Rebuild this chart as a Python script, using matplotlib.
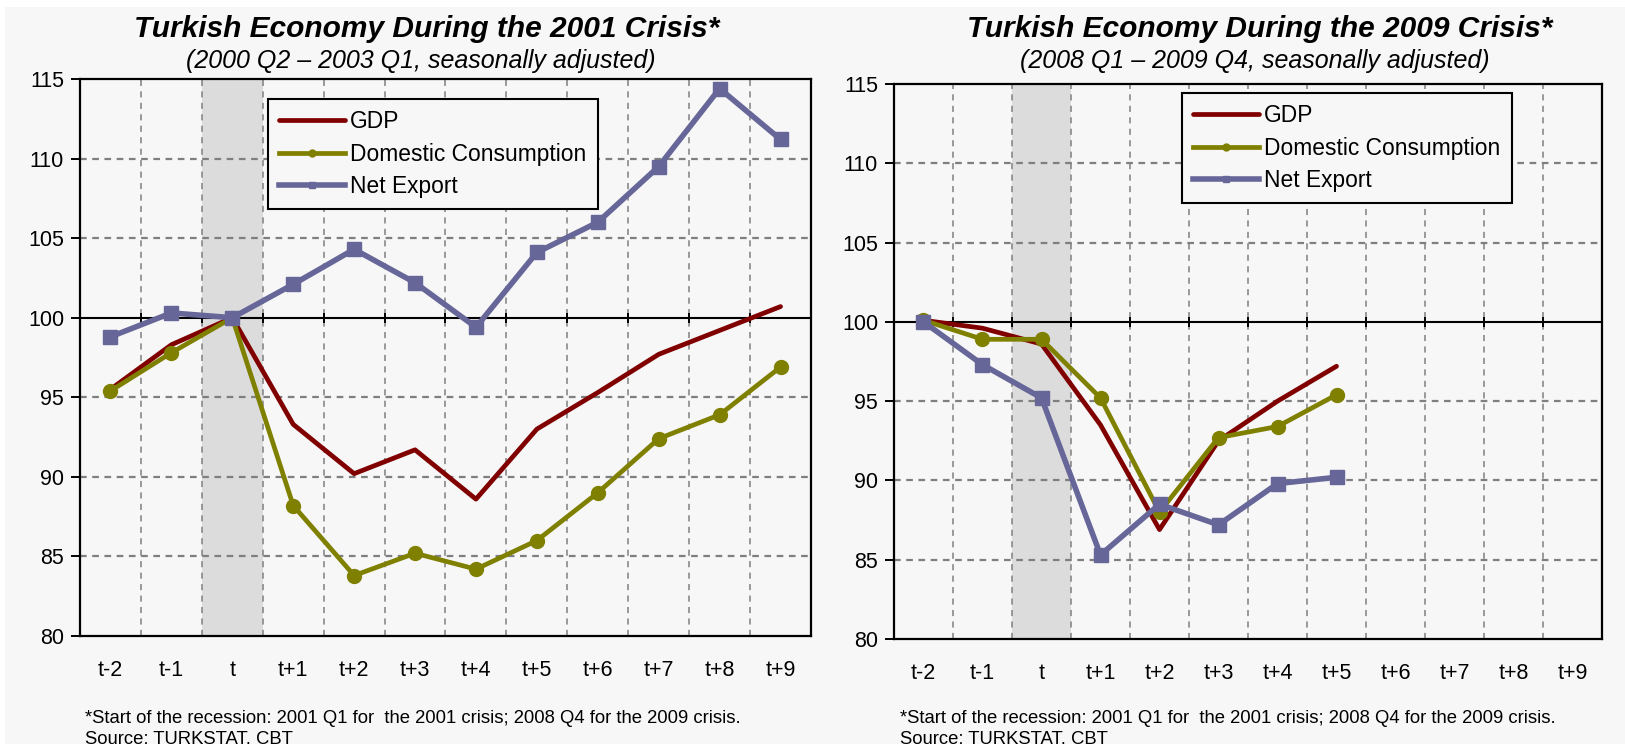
import matplotlib
matplotlib.use("Agg")
import matplotlib.pyplot as plt
import numpy as np
from matplotlib.patches import Rectangle

plt.rcParams['font.family'] = ['Liberation Sans', 'DejaVu Sans']

# ---------------- data ----------------
periods = ["t-2", "t-1", "t", "t+1", "t+2", "t+3", "t+4", "t+5", "t+6", "t+7", "t+8", "t+9"]
recession_period = "t"

gdp_2001 = [95.5, 98.3, 100.0, 93.3, 90.2, 91.7, 88.6, 93.0, 95.3, 97.7, 99.2, 100.7]
dom_2001 = [95.4, 97.8, 100.0, 88.2, 83.8, 85.2, 84.2, 86.0, 89.0, 92.4, 93.9, 96.9]
nx_2001 = [98.8, 100.3, 100.0, 102.1, 104.3, 102.2, 99.4, 104.1, 106.0, 109.5, 114.4, 111.2]

gdp_2009 = [100.1, 99.6, 98.6, 93.5, 86.9, 92.5, 95.0, 97.2]
dom_2009 = [100.1, 98.9, 98.9, 95.2, 88.0, 92.7, 93.4, 95.4]
nx_2009 = [100.0, 97.3, 95.2, 85.3, 88.5, 87.2, 89.8, 90.2]

series_names = ["GDP", "Domestic Consumption", "Net Export"]
yticks = [80, 85, 90, 95, 100, 105, 110, 115]
base_value = 100

title_2001 = "Turkish Economy During the 2001 Crisis*"
sub_2001 = "(2000 Q2 \u2013 2003 Q1, seasonally adjusted)"
title_2009 = "Turkish Economy During the 2009 Crisis*"
sub_2009 = "(2008 Q1 \u2013 2009 Q4, seasonally adjusted)"
footnote = ("*Start of the recession: 2001 Q1 for  the 2001 crisis; 2008 Q4 for the 2009 crisis.\n"
            "Source: TURKSTAT, CBT")

# ---------------- style ----------------
W, H = 1625, 744
BG = '#f7f7f7'
C_GDP = '#800000'
C_DOM = '#808000'
C_NX = '#666699'
GRID = '#7f7f7f'

fig = plt.figure(figsize=(W / 100, H / 100), dpi=100, facecolor='white')
bgrect = Rectangle((5 / W, 0), 1 - 5 / W, 1 - 7 / H, transform=fig.transFigure,
                   facecolor=BG, edgecolor='none', zorder=-100)
fig.add_artist(bgrect)


def fx(px):
    return px / W


def fy(py):
    return 1 - py / H


def draw(rect, gdp, dom, nx, title, sub, tcx, scx, leg_xy):
    ax = fig.add_axes(rect)
    ax.set_zorder(1)
    ax.set_facecolor(BG)
    x_all = np.arange(len(periods))
    bounds = x_all[:-1] + 0.5
    ax.set_xlim(-0.5, len(periods) - 0.5)
    ax.set_ylim(yticks[0], yticks[-1])

    i = periods.index(recession_period)
    ax.axvspan(i - 0.5, i + 0.5, color='#dcdcdc', zorder=0.5, lw=0)

    ax.set_yticks(yticks)
    ax.set_xticks(x_all)
    ax.set_xticklabels(periods)
    ax.set_xticks(bounds, minor=True)
    ax.tick_params(axis='x', which='both', length=0, pad=17.5, labelsize=15.5)
    ax.tick_params(axis='y', which='major', length=6.5, width=1.4, pad=5, direction='out',
                   labelsize=15.5)
    ax.grid(which='minor', axis='x', color=GRID, linestyle=(0, (4, 3.5)), lw=1.1, zorder=1)
    for v in yticks[1:-1]:
        if v != base_value:
            ax.axhline(v, color=GRID, linestyle=(0, (3, 2.5)), lw=1.6, zorder=1)
    for s in ax.spines.values():
        s.set_color('black')
        s.set_linewidth(1.6)

    # horizontal axis crossing at the base value, with tick marks at category boundaries
    ax.axhline(base_value, color='black', lw=1.5, zorder=2)
    loc = (base_value - yticks[0]) / (yticks[-1] - yticks[0])
    half = 5.0 / (rect[3] * H)
    ax.vlines(bounds, loc - half, loc + half, transform=ax.get_xaxis_transform(),
              color='black', lw=1.4, zorder=2)

    n = len(gdp)
    x = np.arange(n)
    ax.plot(x, gdp, color=C_GDP, lw=3.4, label=series_names[0], zorder=3,
            solid_capstyle='round', solid_joinstyle='round')
    ax.plot(x, dom, color=C_DOM, lw=3.4, marker='o', ms=10, label=series_names[1], zorder=4,
            solid_joinstyle='round')
    ax.plot(x, nx, color=C_NX, lw=4.0, marker='s', ms=10, label=series_names[2], zorder=5,
            solid_joinstyle='round')

    leg = ax.legend(loc='upper left', bbox_to_anchor=leg_xy, bbox_transform=fig.transFigure,
                    frameon=True, fancybox=False, edgecolor='black', facecolor=BG, framealpha=1,
                    fontsize=16.4, handlelength=2.9, handletextpad=0.2, labelspacing=0.4,
                    borderpad=0.5, borderaxespad=0, markerscale=0.5)
    leg.get_frame().set_linewidth(1.5)
    leg.set_zorder(10)

    fig.text(tcx, fy(37), title, ha='center', va='baseline', fontsize=21.5,
             fontweight='bold', fontstyle='italic')
    fig.text(scx, fy(68), sub, ha='center', va='baseline', fontsize=18, fontstyle='italic')
    return ax


draw([fx(80), fy(636), fx(811) - fx(80), fy(79) - fy(636)],
     gdp_2001, dom_2001, nx_2001, title_2001, sub_2001, fx(427), fx(421),
     (fx(268), fy(99)))
draw([fx(894), fy(639), fx(1602) - fx(894), fy(84) - fy(639)],
     gdp_2009, dom_2009, nx_2009, title_2009, sub_2009, fx(1260), fx(1255),
     (fx(1182), fy(93)))

for xpx in (85, 900):
    fig.text(fx(xpx), fy(743), footnote, ha='left', va='baseline', fontsize=13.3,
             linespacing=1.25)

fig.savefig("out.png", dpi=100, facecolor=fig.get_facecolor())
